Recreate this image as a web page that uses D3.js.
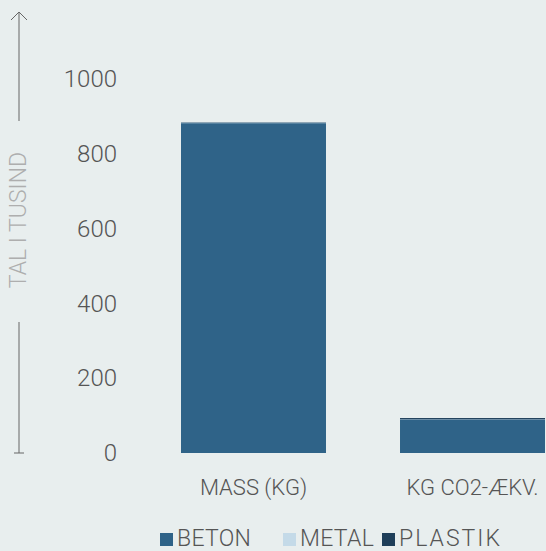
<!DOCTYPE html>
<html><head><meta charset="utf-8">
<script src="https://cdn.jsdelivr.net/npm/d3@7"></script>
<style>
html,body{margin:0;padding:0;background:#e8eeee;}
svg{display:block;font-family:Roboto, "Noto Sans", sans-serif;}
</style></head>
<body><svg id="c" width="546" height="551"></svg>
<script>
const categories = ["MASS (KG)", "KG CO2-ÆKV."];
const seriesNames = ["BETON", "METAL", "PLASTIK"];
const beton = [882, 90];
const metal = [2, 0.5];
const plastik = [1, 3];
const yTicks = [0, 200, 400, 600, 800, 1000];
const colors = ["#2f6388", "#c4dae8", "#1f3f5a"];

const FONT = "Roboto, sans-serif";
const svg = d3.select("#c");
const x = d3.scaleBand().domain(categories).range([181, 545]).paddingInner(0.338).paddingOuter(0);
const y = d3.scaleLinear().domain([0, 1000]).range([453, 79]);

const rows = categories.map((c, i) => ({cat: c, BETON: beton[i], METAL: metal[i], PLASTIK: plastik[i]}));
const stacked = d3.stack().keys(seriesNames)(rows);

svg.append("g").selectAll("g").data(stacked).join("g")
  .attr("fill", (d, i) => colors[i])
  .selectAll("rect").data(d => d).join("rect")
  .attr("x", d => x(d.data.cat))
  .attr("width", x.bandwidth())
  .attr("y", d => y(d[1]))
  .attr("height", d => y(d[0]) - y(d[1]));

// y axis tick labels
const yAxis = d3.axisLeft(y).tickValues(yTicks).tickSize(0).tickPadding(0).tickFormat(d3.format("d"));
const ga = svg.append("g").attr("transform", "translate(117,0)").call(yAxis)
  .attr("font-family", FONT);
ga.select(".domain").remove();
ga.selectAll("text").attr("font-size", 24).attr("font-weight", 300).attr("fill", "#555");

// x axis labels
const xAxis = d3.axisBottom(x).tickSize(0).tickPadding(0);
const gx = svg.append("g").attr("transform", "translate(0,495)").call(xAxis)
  .attr("font-family", FONT);
gx.select(".domain").remove();
gx.selectAll("text").attr("font-size", 22).attr("font-weight", 300).attr("fill", "#555").attr("y", 0).attr("dy", 0);

// y title with arrow
const ax = 19;
svg.append("line").attr("x1", ax).attr("x2", ax).attr("y1", 12).attr("y2", 121).attr("stroke", "#666").attr("stroke-width", 1);
svg.append("path").attr("d", `M${ax-8},${20} L${ax},${12} L${ax+8},${20}`).attr("fill", "none").attr("stroke", "#666").attr("stroke-width", 1);
svg.append("line").attr("x1", ax).attr("x2", ax).attr("y1", 322).attr("y2", 453).attr("stroke", "#666").attr("stroke-width", 1);
svg.append("line").attr("x1", ax-5).attr("x2", ax+5).attr("y1", 453).attr("y2", 453).attr("stroke", "#666").attr("stroke-width", 1);
svg.append("text").attr("transform", `translate(${ax+7},220) rotate(-90)`)
  .attr("text-anchor", "middle").attr("font-size", 23).attr("font-weight", 300).attr("fill", "#aeaeae")
  .attr("font-family", FONT)
  .text("TAL I TUSIND");

// legend
const legX = [160, 283, 382];
const lg = svg.append("g").attr("font-family", FONT);
seriesNames.forEach((s, i) => {
  lg.append("rect").attr("x", legX[i]).attr("y", 533).attr("width", 13).attr("height", 13).attr("fill", colors[i]);
  lg.append("text").attr("x", legX[i] + 17).attr("y", 546).attr("font-size", 23).attr("font-weight", 300)
    .attr("letter-spacing", i === 2 ? 2 : 0.3).attr("fill", "#555").text(s);
});
</script></body></html>
